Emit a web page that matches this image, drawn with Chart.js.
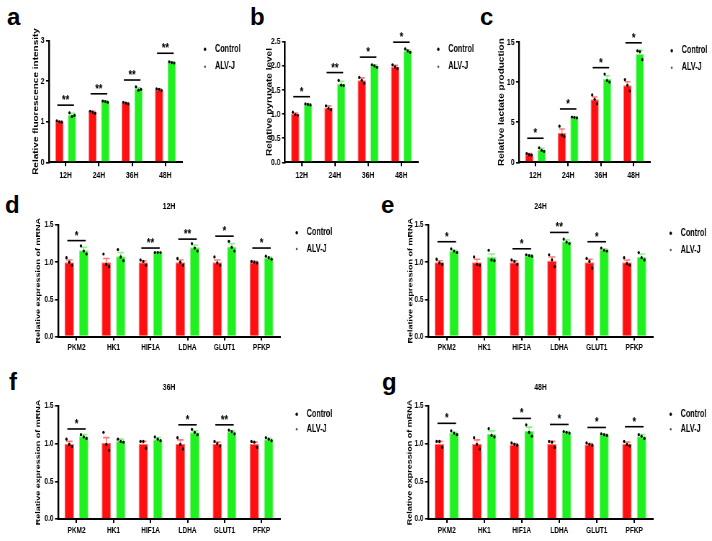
<!DOCTYPE html>
<html>
<head>
<meta charset="utf-8">
<script src="https://cdn.jsdelivr.net/npm/chart.js@4/dist/chart.umd.min.js"></script>
<style>
html, body { margin: 0; padding: 0; background: #fff; }
#fig { position: relative; width: 712px; height: 541px; overflow: hidden; }
.pnl { position: absolute; }
.lt { position: absolute; font: bold 24px 'Liberation Sans', Arial, sans-serif; line-height: 1; color: #000; }
</style>
</head>
<body>
<div id="fig">
  <div class="lt" style="left:7px;top:5px">a</div>
  <div class="lt" style="left:250px;top:5px">b</div>
  <div class="lt" style="left:480px;top:5px">c</div>
  <div class="lt" style="left:5px;top:193px">d</div>
  <div class="lt" style="left:381px;top:193px">e</div>
  <div class="lt" style="left:9px;top:370px">f</div>
  <div class="lt" style="left:382px;top:370px">g</div>
</div>
<script>
// ---- data ----
var timeCats = ["12H", "24H", "36H", "48H"];
var geneCats = ["PKM2", "HK1", "HIF1A", "LDHA", "GLUT1", "PFKP"];
var seriesNames = ["Control", "ALV-J"];

var ticksFluor = [0, 1, 2, 3];
var ticksPyr = [0, 0.5, 1.0, 1.5, 2.0, 2.5];
var ticksLac = [0, 5, 10, 15];
var ticksGene = [0, 0.5, 1.0, 1.5];

// a: fluorescence
var fluorCtrl = [1.00, 1.24, 1.46, 1.79];
var fluorCtrlErr = [0.01, 0.02, 0.01, 0.02];
var fluorAlv = [1.17, 1.50, 1.81, 2.46];
var fluorAlvErr = [0.04, 0.02, 0.03, 0.02];
var fluorCtrlPts = [[1.02, 1.00, 0.99], [1.26, 1.24, 1.21], [1.48, 1.46, 1.44], [1.81, 1.80, 1.77]];
var fluorAlvPts = [[1.22, 1.13, 1.16], [1.51, 1.50, 1.48], [1.86, 1.78, 1.80], [2.48, 2.46, 2.45]];
var fluorSig = ["**", "**", "**", "**"];
var fluorSigY = [1.41, 1.69, 2.03, 2.69];

// b: pyruvate
var pyrCtrl = [1.00, 1.13, 1.70, 1.98];
var pyrCtrlErr = [0.02, 0.04, 0.05, 0.03];
var pyrAlv = [1.20, 1.63, 2.00, 2.31];
var pyrAlvErr = [0.01, 0.05, 0.02, 0.02];
var pyrCtrlPts = [[1.04, 0.99, 0.97], [1.17, 1.12, 1.09], [1.76, 1.70, 1.64], [2.02, 1.98, 1.94]];
var pyrAlvPts = [[1.21, 1.20, 1.19], [1.70, 1.60, 1.59], [2.02, 2.00, 1.97], [2.35, 2.31, 2.28]];
var pyrSig = ["*", "**", "*", "*"];
var pyrSigY = [1.36, 1.86, 2.18, 2.49];

// c: lactate
var lacCtrl = [1.0, 3.7, 7.85, 9.6];
var lacCtrlErr = [0.1, 0.45, 0.3, 0.45];
var lacAlv = [1.55, 5.6, 10.4, 13.5];
var lacAlvErr = [0.2, 0.05, 0.4, 0.45];
var lacCtrlPts = [[1.1, 0.95, 0.9], [4.5, 3.4, 3.2], [8.4, 7.85, 7.3], [10.3, 9.6, 8.9]];
var lacAlvPts = [[1.8, 1.5, 1.35], [5.65, 5.6, 5.55], [11.0, 10.2, 10.0], [13.9, 13.8, 12.8]];
var lacSig = ["*", "*", "*", "*"];
var lacSigY = [3.0, 6.65, 11.8, 14.9];

// d: mRNA 12H
var h12Ctrl = [1.00, 1.00, 1.00, 1.00, 1.00, 1.00];
var h12CtrlErr = [0.03, 0.05, 0.02, 0.03, 0.03, 0.01];
var h12Alv = [1.16, 1.08, 1.13, 1.20, 1.21, 1.06];
var h12AlvErr = [0.04, 0.05, 0.005, 0.03, 0.04, 0.01];
var h12CtrlPts = [[1.06, 1.00, 0.96], [1.11, 0.97, 0.94], [1.03, 1.01, 0.96], [1.05, 1.00, 0.96], [1.07, 0.99, 0.96], [1.01, 1.00, 0.99]];
var h12AlvPts = [[1.22, 1.15, 1.11], [1.17, 1.07, 1.02], [1.13, 1.13, 1.13], [1.25, 1.19, 1.15], [1.28, 1.20, 1.15], [1.08, 1.06, 1.04]];
var h12Sig = ["*", "", "**", "**", "*", "*"];
var h12SigY = [1.29, null, 1.19, 1.31, 1.35, 1.19];

// e: mRNA 24H
var h24Ctrl = [1.00, 1.00, 1.00, 1.02, 1.00, 1.00];
var h24CtrlErr = [0.02, 0.04, 0.02, 0.05, 0.04, 0.03];
var h24Alv = [1.15, 1.07, 1.09, 1.28, 1.17, 1.07];
var h24AlvErr = [0.01, 0.04, 0.01, 0.02, 0.01, 0.04];
var h24CtrlPts = [[1.04, 0.99, 0.97], [1.07, 0.97, 0.96], [1.03, 1.01, 0.97], [1.10, 1.03, 0.94], [1.05, 1.01, 0.92], [1.06, 0.98, 0.96]];
var h24AlvPts = [[1.18, 1.15, 1.13], [1.16, 1.03, 1.02], [1.10, 1.09, 1.08], [1.31, 1.27, 1.25], [1.19, 1.16, 1.15], [1.13, 1.06, 1.03]];
var h24Sig = ["*", "", "*", "**", "*", ""];
var h24SigY = [1.275, null, 1.18, 1.40, 1.275, null];

// f: mRNA 36H
var h36Ctrl = [1.00, 1.01, 1.00, 1.00, 1.00, 1.00];
var h36CtrlErr = [0.03, 0.07, 0.03, 0.05, 0.02, 0.02];
var h36Alv = [1.10, 1.04, 1.06, 1.15, 1.16, 1.06];
var h36AlvErr = [0.02, 0.02, 0.02, 0.02, 0.01, 0.01];
var h36CtrlPts = [[1.06, 0.99, 0.96], [1.15, 0.99, 0.91], [1.03, 1.03, 0.94], [1.08, 0.99, 0.93], [1.03, 1.00, 0.97], [1.03, 1.02, 0.95]];
var h36AlvPts = [[1.12, 1.09, 1.07], [1.06, 1.03, 1.02], [1.09, 1.06, 1.04], [1.19, 1.15, 1.12], [1.18, 1.16, 1.13], [1.08, 1.06, 1.04]];
var h36Sig = ["*", "", "", "*", "**", ""];
var h36SigY = [1.195, null, null, 1.25, 1.25, null];

// g: mRNA 48H
var h48Ctrl = [1.00, 1.00, 0.99, 1.00, 0.99, 1.00];
var h48CtrlErr = [0.03, 0.05, 0.01, 0.03, 0.01, 0.02];
var h48Alv = [1.14, 1.13, 1.17, 1.15, 1.12, 1.10];
var h48AlvErr = [0.01, 0.04, 0.05, 0.01, 0.005, 0.02];
var h48CtrlPts = [[1.03, 1.03, 0.95], [1.08, 0.99, 0.93], [1.01, 0.99, 0.98], [1.03, 1.02, 0.95], [1.01, 0.99, 0.98], [1.03, 0.99, 0.97]];
var h48AlvPts = [[1.17, 1.14, 1.12], [1.20, 1.11, 1.09], [1.25, 1.15, 1.10], [1.16, 1.15, 1.14], [1.13, 1.12, 1.11], [1.12, 1.10, 1.07]];
var h48Sig = ["*", "", "*", "*", "*", "*"];
var h48SigY = [1.27, null, 1.335, 1.255, 1.215, 1.225];

// ---- styling ----
var RED = "#ff0f0f", GREEN = "#1ff01f";
var RED_EDGE = "#ff7a7a", GREEN_EDGE = "#8af58a";
var FONT = "'Liberation Sans', Arial, sans-serif";
var SX = 0.72;                // the source figure is squeezed horizontally
var JIT = [-0.3, 0, 0.3];     // spread of replicate dots, as a share of bar width
var X_H = 20;                 // fixed x-axis height

function makePanel(p) {
  var bx = p.box[0], by = p.box[1], bw = p.box[2], bh = p.box[3];
  var al = p.area[0], at = p.area[1], ar = p.area[2], ab = p.area[3];
  var cw = Math.round(bw / SX), sx = bw / cw;
  function cx(px) { return (px - bx) / sx; }   // page x -> canvas x

  var div = document.createElement("div");
  div.className = "pnl";
  div.style.left = bx + "px"; div.style.top = by + "px";
  div.style.width = bw + "px"; div.style.height = bh + "px";
  var cv = document.createElement("canvas");
  cv.width = cw; cv.height = bh;
  cv.style.width = bw + "px"; cv.style.height = bh + "px";
  div.appendChild(cv);
  document.getElementById("fig").appendChild(div);

  var titleLH = p.titleSize * 1.2;
  var scaleLeft = cx(p.titleX) - titleLH / 2;
  var yW = cx(al) - scaleLeft;
  var ymax = p.ticks[p.ticks.length - 1];
  var tickFont = { family: FONT, size: p.tickSize, weight: "bold" };

  var extras = {
    id: "extras",
    afterDatasetDraw: function (chart, args) {
      if (args.meta.type !== "bar") return;
      var ds = chart.data.datasets[args.index];
      var y = chart.scales.y, ctx = chart.ctx;
      ctx.save();
      ctx.strokeStyle = ds.errColor; ctx.lineWidth = 1.6;
      args.meta.data.forEach(function (bar, i) {
        var y0 = y.getPixelForValue(ds.data[i]);
        var y1 = y.getPixelForValue(ds.data[i] + ds.errs[i]);
        var hw = bar.width * 0.35;
        ctx.beginPath();
        ctx.moveTo(bar.x, y0); ctx.lineTo(bar.x, y1);
        ctx.moveTo(bar.x - hw, y1); ctx.lineTo(bar.x + hw, y1);
        ctx.stroke();
      });
      ctx.restore();
    },
    afterDatasetsDraw: function (chart) {
      var y = chart.scales.y, ctx = chart.ctx;
      var m0 = chart.getDatasetMeta(0).data, m1 = chart.getDatasetMeta(1).data;
      ctx.save();
      // replicate dots
      ctx.fillStyle = "#000";
      [[m0, p.ctrlPts], [m1, p.alvPts]].forEach(function (pair) {
        pair[0].forEach(function (bar, i) {
          pair[1][i].forEach(function (v, k) {
            ctx.beginPath();
            ctx.arc(bar.x + JIT[k] * bar.width, y.getPixelForValue(v), 1.6, 0, Math.PI * 2);
            ctx.fill();
          });
        });
      });
      // significance marks
      ctx.strokeStyle = "#000"; ctx.lineWidth = 1.6;
      ctx.font = "bold 13px " + FONT; ctx.textAlign = "center"; ctx.textBaseline = "alphabetic";
      p.sig.forEach(function (s, i) {
        if (!s) return;
        var yy = y.getPixelForValue(p.sigY[i]);
        var x0 = m0[i].x - 2 / sx, x1 = m1[i].x + 2 / sx;
        ctx.beginPath(); ctx.moveTo(x0, yy); ctx.lineTo(x1, yy); ctx.stroke();
        ctx.fillText(s, (x0 + x1) / 2, yy - 1);
      });
      ctx.restore();
    },
    afterDraw: function (chart) {
      var ctx = chart.ctx, ca = chart.chartArea;
      ctx.save();
      ctx.font = "bold 10px " + FONT; ctx.textAlign = "left"; ctx.textBaseline = "middle";
      var dotCol = ["#000", "#555"];
      seriesNames.forEach(function (name, k) {
        var lx = cx(p.leg[0]), ly = p.leg[1 + k] - by;
        ctx.fillStyle = dotCol[k];
        ctx.beginPath(); ctx.arc(lx, ly, k === 0 ? 1.7 : 1.3, 0, Math.PI * 2); ctx.fill();
        ctx.fillStyle = "#000";
        ctx.fillText(name, lx + 10 / sx, ly);
      });
      if (p.sub) {
        ctx.font = "bold 9.5px " + FONT; ctx.textAlign = "center";
        ctx.fillText(p.sub, (ca.left + ca.right) / 2, ca.top - 19);
      }
      ctx.restore();
    }
  };

  new Chart(cv, {
    type: "bar",
    data: {
      labels: p.cats,
      datasets: [
        { label: seriesNames[0], data: p.ctrl, errs: p.ctrlErr, errColor: RED_EDGE,
          backgroundColor: RED, borderColor: RED_EDGE, borderWidth: 1,
          categoryPercentage: p.catPct, barPercentage: p.barPct },
        { label: seriesNames[1], data: p.alv, errs: p.alvErr, errColor: GREEN_EDGE,
          backgroundColor: GREEN, borderColor: GREEN_EDGE, borderWidth: 1,
          categoryPercentage: p.catPct, barPercentage: p.barPct }
      ]
    },
    options: {
      responsive: false, animation: false, devicePixelRatio: 1, events: [],
      layout: { padding: { left: scaleLeft, top: at - by, right: cw - cx(ar), bottom: by + bh - ab - X_H } },
      plugins: { legend: { display: false }, tooltip: { enabled: false } },
      scales: {
        x: {
          type: "category", offset: true,
          grid: { display: true, drawOnChartArea: false, drawTicks: true, tickLength: 4, offset: false, color: "#000", lineWidth: 2 },
          border: { display: true, color: "#000", width: 2 },
          ticks: { font: tickFont, color: "#000", padding: p.xPad, maxRotation: 0, autoSkip: false },
          afterFit: function (s) { s.height = X_H; }
        },
        y: {
          type: "linear", min: 0, max: ymax,
          afterBuildTicks: function (s) { s.ticks = p.ticks.map(function (v) { return { value: v }; }); },
          grid: { display: true, drawOnChartArea: false, drawTicks: true, tickLength: 3 / sx, color: "#000", lineWidth: 1.6 },
          border: { display: true, color: "#000", width: 2.4 },
          ticks: { font: tickFont, color: "#000", padding: 1.5 / sx,
                   callback: function (v) { return Number(v).toFixed(p.dec); } },
          title: { display: true, text: p.yTitle, color: "#000", padding: 0,
                   font: { family: FONT, size: p.titleSize, weight: "bold", lineHeight: 1.2 } },
          afterFit: function (s) { s.width = yW; }
        }
      }
    },
    plugins: [extras]
  });
}

var topRow = { catPct: 0.76, barPct: 0.66, tickSize: 9.5, titleSize: 10, xPad: 3, cats: timeCats };
var geneRow = { catPct: 0.78, barPct: 0.65, tickSize: 9, titleSize: 9, xPad: 2, cats: geneCats,
                ticks: ticksGene, dec: 1, yTitle: "Relative expression of mRNA" };
function withRow(row, p) { Object.keys(row).forEach(function (k) { if (!(k in p)) p[k] = row[k]; }); return p; }

makePanel(withRow(topRow, {
  box: [0, 20, 262, 178], area: [49, 40.7, 182, 162.3], titleX: 36, leg: [205, 49.3, 66.7],
  ticks: ticksFluor, dec: 0, yTitle: "Relative fluorescence intensity",
  ctrl: fluorCtrl, ctrlErr: fluorCtrlErr, alv: fluorAlv, alvErr: fluorAlvErr,
  ctrlPts: fluorCtrlPts, alvPts: fluorAlvPts, sig: fluorSig, sigY: fluorSigY
}));
makePanel(withRow(topRow, {
  box: [250, 20, 230, 178], area: [285, 41.7, 418, 162.3], titleX: 269.5, leg: [438.3, 49.3, 66.7],
  ticks: ticksPyr, dec: 1, yTitle: "Relative pyruvate level",
  ctrl: pyrCtrl, ctrlErr: pyrCtrlErr, alv: pyrAlv, alvErr: pyrAlvErr,
  ctrlPts: pyrCtrlPts, alvPts: pyrAlvPts, sig: pyrSig, sigY: pyrSigY
}));
makePanel(withRow(topRow, {
  box: [485, 20, 227, 178], area: [519, 42, 650, 162.3], titleX: 502, leg: [671.7, 50.7, 67.7],
  ticks: ticksLac, dec: 0, yTitle: "Relative lactate production",
  ctrl: lacCtrl, ctrlErr: lacCtrlErr, alv: lacAlv, alvErr: lacAlvErr,
  ctrlPts: lacCtrlPts, alvPts: lacAlvPts, sig: lacSig, sigY: lacSigY
}));
makePanel(withRow(geneRow, {
  box: [20, 192, 335, 178], area: [58, 225, 280, 336.5], titleX: 38.5, leg: [296.7, 232.7, 249], sub: "12H",
  ctrl: h12Ctrl, ctrlErr: h12CtrlErr, alv: h12Alv, alvErr: h12AlvErr,
  ctrlPts: h12CtrlPts, alvPts: h12AlvPts, sig: h12Sig, sigY: h12SigY
}));
makePanel(withRow(geneRow, {
  box: [385, 192, 327, 178], area: [428, 225, 653, 336.5], titleX: 410.5, leg: [670.7, 233.3, 250], sub: "24H",
  ctrl: h24Ctrl, ctrlErr: h24CtrlErr, alv: h24Alv, alvErr: h24AlvErr,
  ctrlPts: h24CtrlPts, alvPts: h24AlvPts, sig: h24Sig, sigY: h24SigY
}));
makePanel(withRow(geneRow, {
  box: [20, 372, 335, 169], area: [58, 406, 280, 519], titleX: 38.5, leg: [296.7, 414.3, 429.3], sub: "36H",
  ctrl: h36Ctrl, ctrlErr: h36CtrlErr, alv: h36Alv, alvErr: h36AlvErr,
  ctrlPts: h36CtrlPts, alvPts: h36AlvPts, sig: h36Sig, sigY: h36SigY
}));
makePanel(withRow(geneRow, {
  box: [385, 372, 327, 169], area: [428, 406, 653, 519], titleX: 410, leg: [670.7, 414.3, 429.3], sub: "48H",
  ctrl: h48Ctrl, ctrlErr: h48CtrlErr, alv: h48Alv, alvErr: h48AlvErr,
  ctrlPts: h48CtrlPts, alvPts: h48AlvPts, sig: h48Sig, sigY: h48SigY
}));
</script>
</body>
</html>
